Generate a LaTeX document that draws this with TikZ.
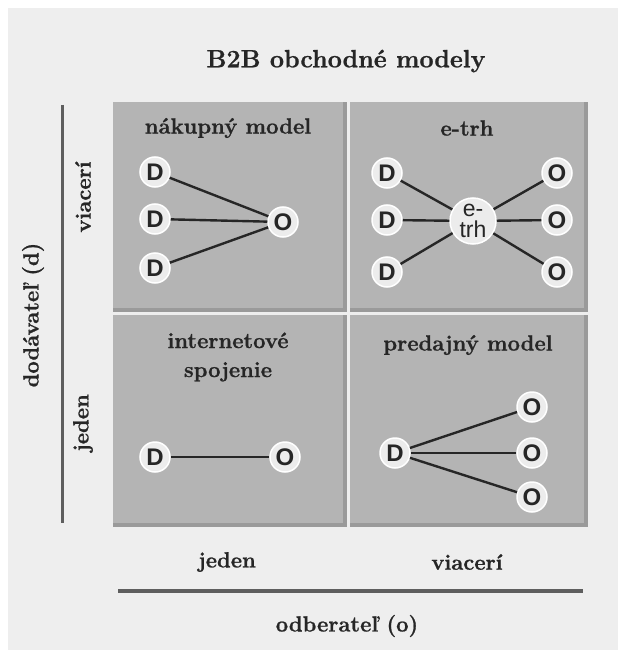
\documentclass[tikz,border=0pt]{standalone}
\usepackage{fontspec}
\setmainfont{Latin Modern Roman}[BoldFeatures={FakeBold=0.9}]
\newfontfamily\letterfont{Liberation Sans}
\usetikzlibrary{positioning}
\definecolor{backgray}{HTML}{EEEEEE}
\definecolor{panelgray}{HTML}{B4B4B4}
\definecolor{edgegray}{HTML}{9A9A9A}
\definecolor{linkgray}{HTML}{262626}
\definecolor{axisgray}{HTML}{5E5E5E}
\tikzset{
  caption/.style={font=\fontsize{22}{29}\selectfont\bfseries, text=black!85, align=center},
  party/.style={circle, fill=white!85!gray, draw=white, line width=1.5pt, inner sep=0pt,
    minimum size=30pt, font=\fontsize{24}{24}\selectfont\letterfont\bfseries, text=black!85},
  link/.style={draw=linkgray, line width=2.4pt},
  axisline/.style={draw=axisgray, line width=3.5pt}
}
\begin{document}
\begin{tikzpicture}[x=1pt,y=-1pt]
	\useasboundingbox (0,0) rectangle (618,650);
	\fill[white] (0,0) rectangle (618,650);
	\fill[backgray] (8,8) rectangle (618,650);
	\foreach \xa/\ya/\xb/\yb in {113/102/347/312, 350/102/588/312, 113/315/347/527, 350/315/588/527} {
		\fill[panelgray] (\xa,\ya) rectangle (\xb,\yb);
		\fill[edgegray] (\xb-4,\ya) rectangle (\xb,\yb);
		\fill[edgegray] (\xa,\yb-4) rectangle (\xb,\yb);
	}
	\node[caption, font=\fontsize{25}{30}\selectfont\bfseries] (title) at (346,61) {B2B obchodné modely};
	% nakupny model
	\node[caption] (tbuy) at (228,128) {nákupný model};
	\node[party] (d1) at (155,172) {D};
	\node[party] (d2) at (155,219) {D};
	\node[party] (d3) at (155,268) {D};
	\node[party] (o1) at (283,222) {O};
	\foreach \n in {d1,d2,d3} \draw[link] (\n) -- (o1);
	% e-trh
	\node[caption] (tmarket) at (467,128) {e-trh};
	\node[party, minimum size=46pt, align=center, font=\fontsize{23}{20}\selectfont\letterfont] (hub) at (473,221) {e-\\[1pt]trh};
	\node[party] (ed1) at (387,173) {D};
	\node[party] (ed2) at (387,220) {D};
	\node[party] (ed3) at (387,272) {D};
	\node[party] (eo1) at (557,173) {O};
	\node[party] (eo2) at (557,220) {O};
	\node[party] (eo3) at (557,272) {O};
	\foreach \n in {ed1,ed2,ed3,eo1,eo2,eo3} \draw[link] (\n) -- (hub);
	% internetove spojenie
	\node[caption] (tlink) at (228,357) {internetové\\spojenie};
	\node[party] (sd) at (155,457) {D};
	\node[party] (so) at (285,457) {O};
	\draw[link] (sd) -- (so);
	% predajny model
	\node[caption] (tsell) at (468,345) {predajný model};
	\node[party] (pd) at (395,453) {D};
	\node[party] (po1) at (532,407) {O};
	\node[party] (po2) at (532,453) {O};
	\node[party] (po3) at (532,497) {O};
	\foreach \n in {po1,po2,po3} \draw[link] (pd) -- (\n);
	% osi
	\coordinate (xs) at (118,591);
	\coordinate (xe) at (583,591);
	\coordinate (ys) at (62,105);
	\coordinate (ye) at (62,523);
	\draw[axisline] (xs) -- (xe);
	\draw[axisline, line width=3pt] (ys) -- (ye);
	\node[caption] (xone) at (227,562) {jeden};
	\node[caption] (xmany) at (467,562) {viacerí};
	\node[caption] (xname) at (347,626) {odberateľ (o)};
	\node[caption, rotate=90] (ymany) at (83,197) {viacerí};
	\node[caption, rotate=90] (yone) at (83,423) {jeden};
	\node[caption, rotate=90] (yname) at (33,315) {dodávateľ (d)};
\end{tikzpicture}
\end{document}
